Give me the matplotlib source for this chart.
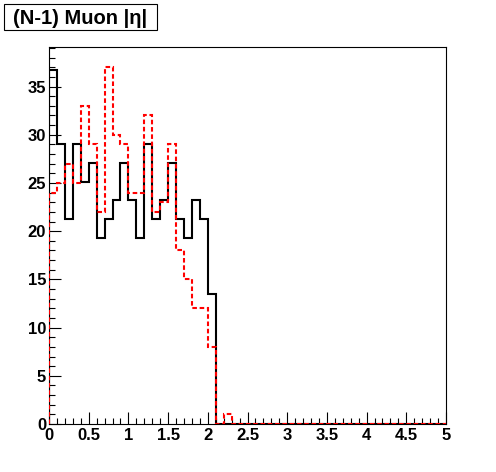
import numpy as np
import matplotlib
matplotlib.use("Agg")
import matplotlib.pyplot as plt
from matplotlib.patches import Rectangle
from matplotlib.ticker import MultipleLocator

# 50 bins of 0.1 in |eta| from 0 to 5
edges = np.linspace(0, 5, 51)

# reference (red, dashed) counts per bin
red_vals = [24, 25, 27, 25, 33, 29, 22, 37, 30, 29,
            24, 24, 32, 22, 23, 29, 18, 15, 12, 12,
            8, 0, 1] + [0] * 27

# (N-1) sample (black), already normalised to the red area
black_vals = [36.7, 29.0, 21.3, 29.0, 25.1, 27.1, 19.3, 21.3, 23.2, 27.1,
              23.2, 19.3, 29.0, 21.3, 23.2, 27.1, 21.3, 19.3, 23.2, 21.3,
              13.5] + [0] * 29

plt.rcParams['font.family'] = ['Liberation Sans', 'DejaVu Sans']

fig = plt.figure(figsize=(4.96, 4.72), dpi=100)
ax = fig.add_axes([49 / 496, 48 / 472, 397 / 496, 377 / 472])

ax.stairs(black_vals, edges, color='black', lw=1.5, baseline=0, zorder=3)
ax.stairs(red_vals, edges, color='red', lw=1.5, baseline=0,
          linestyle=(0, (2.2, 1.3)), zorder=4)

ax.set_xlim(0, 5)
ax.set_ylim(0, 39.1)

ax.xaxis.set_major_locator(MultipleLocator(0.5))
ax.xaxis.set_minor_locator(MultipleLocator(0.1))
ax.yaxis.set_major_locator(MultipleLocator(5))
ax.yaxis.set_minor_locator(MultipleLocator(1))
ax.xaxis.set_major_formatter(plt.FuncFormatter(lambda v, p: '%g' % v))

ax.tick_params(which='both', direction='in', top=False, right=False,
               width=0.8, labelsize=12)
ax.tick_params(which='major', length=8.5)
ax.tick_params(which='minor', length=4.3)
ax.tick_params(axis='x', pad=3)
ax.tick_params(axis='y', pad=2)
for lab in ax.get_xticklabels() + ax.get_yticklabels():
    lab.set_fontweight('bold')
for s in ax.spines.values():
    s.set_linewidth(0.8)

# title box, ROOT style
fig.patches.append(Rectangle((4 / 496, 1 - 30 / 472), 153 / 496, 26 / 472,
                             transform=fig.transFigure, fc='white',
                             ec='black', lw=0.8))
fig.text(80 / 496, 1 - 18 / 472, '(N-1) Muon |η|', ha='center', va='center',
         fontsize=14.5, fontweight='bold')

fig.savefig('out.png', dpi=100)
